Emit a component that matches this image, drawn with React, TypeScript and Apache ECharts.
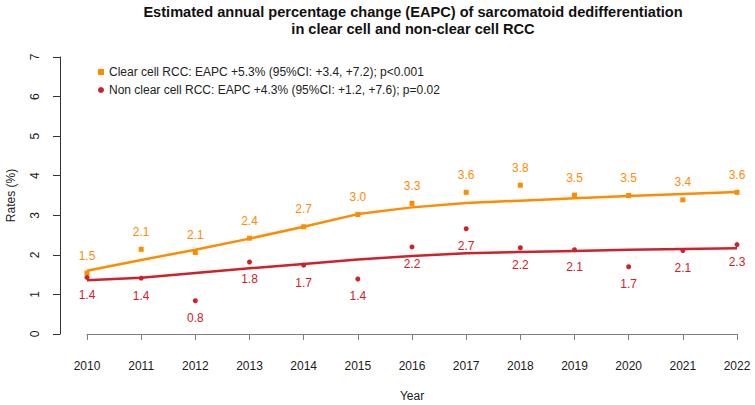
import React, { useEffect, useRef } from "react";
import * as echarts from "echarts";

const years = [2010, 2011, 2012, 2013, 2014, 2015, 2016, 2017, 2018, 2019, 2020, 2021, 2022];

// Observed rates (%)
const clearCellRates = [1.54, 2.14, 2.06, 2.42, 2.71, 3.02, 3.3, 3.58, 3.76, 3.51, 3.5, 3.39, 3.58];
const nonClearCellRates = [1.43, 1.41, 0.84, 1.82, 1.74, 1.39, 2.2, 2.66, 2.18, 2.13, 1.7, 2.11, 2.26];

// Fitted trend (%)
const clearCellFit = [1.6, 1.87, 2.13, 2.41, 2.71, 3.03, 3.2, 3.31, 3.37, 3.43, 3.49, 3.54, 3.59];
const nonClearCellFit = [1.36, 1.42, 1.54, 1.66, 1.77, 1.88, 1.97, 2.04, 2.07, 2.1, 2.13, 2.15, 2.17];

const yTicks = [0, 1, 2, 3, 4, 5, 6, 7];

const clearName = "Clear cell RCC: EAPC +5.3% (95%CI: +3.4, +7.2); p<0.001";
const nonClearName = "Non clear cell RCC: EAPC +4.3% (95%CI: +1.2, +7.6); p=0.02";
const titleLines = [
  "Estimated annual percentage change (EAPC) of sarcomatoid dedifferentiation",
  "in clear cell and non-clear cell RCC",
];

const ORANGE = "#FF8C00";
const RED = "#D0202A";
const FONT = "'Liberation Sans', Arial, Helvetica, sans-serif";

const pair = (vals: number[]) => years.map((y, i) => [y, vals[i]]);

export default function App() {
  const ref = useRef<HTMLDivElement>(null);

  useEffect(() => {
    if (!ref.current) return;
    const chart = echarts.init(ref.current, null, { renderer: "svg" });
    chart.setOption({
      animation: false,
      backgroundColor: "#ffffff",
      textStyle: { fontFamily: FONT },
      graphic: [
        {
          type: "text",
          x: 413,
          y: 3,
          style: {
            text: titleLines.join("\n"),
            font: `bold 14.6px ${FONT}`,
            fill: "#111",
            textAlign: "center",
            lineHeight: 17,
          },
        },
      ],
      legend: {
        orient: "vertical",
        left: 93,
        top: 60,
        itemWidth: 6,
        itemHeight: 6,
        itemGap: 4,
        data: [
          { name: clearName, icon: "rect" },
          { name: nonClearName, icon: "circle" },
        ],
        textStyle: { fontSize: 12, color: "#222", lineHeight: 14, fontFamily: FONT },
      },
      grid: { left: 87, right: 18, top: 57, bottom: 71, outerBoundsMode: "none", containLabel: false },
      xAxis: {
        type: "value",
        min: 2010,
        max: 2022,
        interval: 1,
        offset: 12,
        name: "Year",
        nameLocation: "middle",
        nameGap: 44,
        nameTextStyle: { fontSize: 12, color: "#222" },
        axisLine: { lineStyle: { color: "#808080", width: 1 } },
        axisTick: { length: 6, lineStyle: { color: "#808080" } },
        axisLabel: {
          fontSize: 12,
          color: "#1a1a1a",
          margin: 14,
          formatter: (v: number) => String(v),
        },
        splitLine: { show: false },
      },
      yAxis: {
        type: "value",
        min: 0,
        max: 7,
        interval: 1,
        offset: 27,
        name: "Rates (%)",
        nameLocation: "middle",
        nameGap: 43,
        nameTextStyle: { fontSize: 12, color: "#222" },
        axisLine: { show: true, lineStyle: { color: "#333", width: 1 } },
        axisTick: { show: true, length: 7, lineStyle: { color: "#333" } },
        axisLabel: {
          fontSize: 12,
          color: "#1a1a1a",
          rotate: 90,
          margin: 19,
          formatter: (v: number) => (yTicks.includes(v) ? String(v) : ""),
        },
        splitLine: { show: false },
      },
      series: [
        {
          name: clearName + " fit",
          type: "line",
          data: pair(clearCellFit),
          showSymbol: false,
          symbol: "none",
          lineStyle: { color: ORANGE, width: 2.5 },
          z: 2,
        },
        {
          name: nonClearName + " fit",
          type: "line",
          data: pair(nonClearCellFit),
          showSymbol: false,
          symbol: "none",
          lineStyle: { color: RED, width: 2.5 },
          z: 2,
        },
        {
          name: clearName,
          type: "scatter",
          data: pair(clearCellRates),
          symbol: "rect",
          symbolSize: 5,
          itemStyle: { color: ORANGE, opacity: 1 },
          label: {
            show: true,
            position: "top",
            distance: 8,
            fontSize: 12,
            lineHeight: 14,
            color: ORANGE,
            formatter: (p: any) => p.value[1].toFixed(1),
          },
          z: 3,
        },
        {
          name: nonClearName,
          type: "scatter",
          data: pair(nonClearCellRates),
          symbol: "circle",
          symbolSize: 5,
          itemStyle: { color: RED, opacity: 1 },
          label: {
            show: true,
            position: "bottom",
            distance: 8,
            fontSize: 12,
            lineHeight: 14,
            color: RED,
            formatter: (p: any) => p.value[1].toFixed(1),
          },
          z: 3,
        },
      ],
    });
    return () => chart.dispose();
  }, []);

  return (
    <div
      ref={ref}
      style={{ position: "fixed", left: 0, top: 0, width: 755, height: 405 }}
    />
  );
}
